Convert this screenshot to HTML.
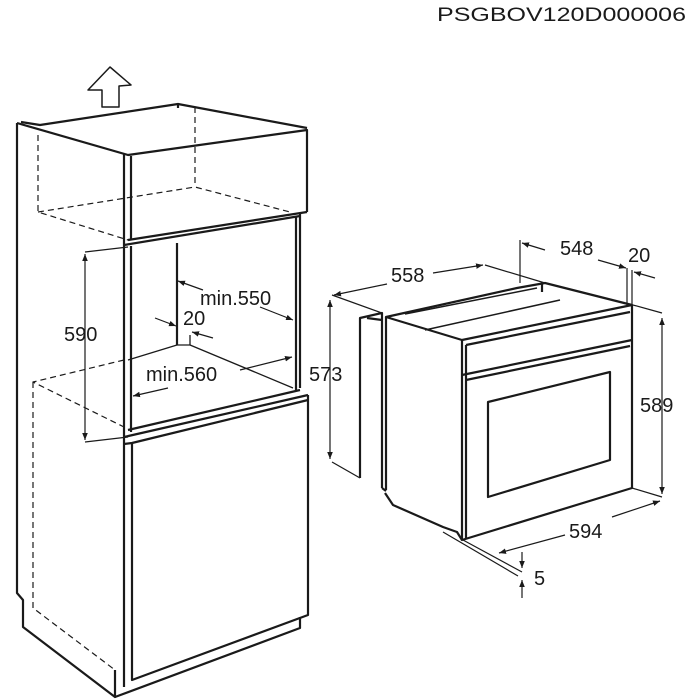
<!DOCTYPE html>
<html><head><style>
body{margin:0;background:#fff;}
svg{display:block;}
text{font-family:"Liberation Sans",Arial,sans-serif;fill:#1a1a1a;}
</style></head><body>
<svg width="700" height="700" viewBox="0 0 700 700" xmlns="http://www.w3.org/2000/svg">
<defs>
<marker id="a" viewBox="0 0 10 10" refX="10" refY="5" markerWidth="7" markerHeight="7" orient="auto-start-reverse" markerUnits="userSpaceOnUse"><path d="M0,1 L10,5 L0,9 z" fill="#1a1a1a"/></marker>
</defs>
<text x="437" y="21" font-size="19" textLength="249" lengthAdjust="spacingAndGlyphs">PSGBOV120D000006</text>

<g fill="none" stroke="#1a1a1a" stroke-width="2.2" stroke-linejoin="round">
<!-- up arrow -->
<polygon points="88,90 110,67 131,85 119,86 119,107 102,107 102,90" stroke-width="1.5"/>
<!-- cabinet outer left -->
<polyline points="17,123 17,593 23,600 23,627 115,697 115,670"/>
<polyline points="115,697 300,628 300,617"/>
<!-- top -->
<polyline points="17,123 128,155 307,130 307,212"/>
<polyline points="21,122 40,125 178,104 307,128"/>
<line x1="178" y1="104" x2="178" y2="108"/>
<line x1="124" y1="154" x2="124" y2="687"/>
<line x1="131" y1="156" x2="131" y2="240"/>
<polyline points="128,240 307,212"/>
<polyline points="124,245 300,216"/>
<!-- opening -->
<line x1="131" y1="246" x2="131" y2="432"/>
<line x1="296" y1="216" x2="296" y2="390"/>
<line x1="300" y1="214" x2="300" y2="388"/>
<line x1="177" y1="243" x2="177" y2="345"/>
<polyline points="177,345 190,345 293,388" stroke-width="1.3"/>
<line x1="190" y1="335" x2="190" y2="345" stroke-width="1.3"/>
<line x1="177" y1="345" x2="128" y2="360" stroke-width="1.3"/>
<polyline points="128,430 300,390"/>
<polyline points="124,437 308,395"/>
<polyline points="124,444 132,443 308,400"/>
<!-- lower door -->
<polyline points="132,443 132,680 308,615 308,395"/>
<!-- dashed -->
<g stroke-dasharray="6,4" stroke-width="1.2">
<polyline points="38,135 38,212 128,240"/>
<polyline points="38,212 195,187 290,212"/>
<line x1="195" y1="107" x2="195" y2="187"/>
<polyline points="124,360 33,382 124,427"/>
<polyline points="33,382 33,608 115,670"/>
</g>
<!-- 590 -->
<g stroke-width="1.2">
<line x1="85" y1="254" x2="85" y2="440" marker-start="url(#a)" marker-end="url(#a)"/>
<line x1="85" y1="252" x2="128" y2="247"/>
<line x1="85" y1="442" x2="128" y2="437"/>
<line x1="203" y1="290" x2="178" y2="281" marker-end="url(#a)"/>
<line x1="260" y1="307" x2="293" y2="320" marker-end="url(#a)"/>
<line x1="155" y1="318" x2="176" y2="326" marker-end="url(#a)"/>
<line x1="213" y1="338" x2="192" y2="332" marker-end="url(#a)"/>
<line x1="168" y1="388" x2="133" y2="396" marker-end="url(#a)"/>
<line x1="240" y1="370" x2="292" y2="357" marker-end="url(#a)"/>
</g>

<!-- oven -->
<polyline points="360,478 360,318 382,313 382,488"/>
<line x1="367" y1="318" x2="382" y2="320"/>
<polygon points="386,317 517,288 545,283 632,305 462,340"/>
<line x1="405" y1="314" x2="537" y2="288" stroke-width="1.5"/>
<line x1="425" y1="330" x2="560" y2="300" stroke-width="1.5"/>
<line x1="542" y1="283" x2="542" y2="292"/>
<polyline points="462,340 462,540 632,488 632,305"/>
<polyline points="466,345 630,312"/>
<line x1="466" y1="345" x2="466" y2="538"/>
<polyline points="462,375 632,340"/>
<polyline points="466,380 630,346"/>
<polygon points="488,402 610,372 610,460 488,497"/>
<line x1="386" y1="317" x2="386" y2="490"/>
<polyline points="385,493 393,505 443,527 457,532 462,540" />
<line x1="382" y1="488" x2="386" y2="491"/>
<g stroke-width="1.2">
<line x1="330" y1="300" x2="330" y2="459" marker-start="url(#a)" marker-end="url(#a)"/>
<line x1="332" y1="295" x2="382" y2="313"/>
<line x1="332" y1="462" x2="360" y2="478"/>
<line x1="334" y1="295" x2="387" y2="284" marker-start="url(#a)"/>
<line x1="433" y1="273" x2="483" y2="265" marker-end="url(#a)"/>
<line x1="485" y1="265" x2="545" y2="283"/>
<line x1="520" y1="240" x2="520" y2="283"/>
<line x1="545" y1="250" x2="522" y2="243" marker-end="url(#a)"/>
<line x1="598" y1="260" x2="626" y2="268" marker-end="url(#a)"/>
<line x1="627" y1="268" x2="627" y2="305"/>
<line x1="632" y1="270" x2="632" y2="305"/>
<line x1="655" y1="278" x2="634" y2="272" marker-end="url(#a)"/>
<line x1="662" y1="318" x2="662" y2="494" marker-start="url(#a)" marker-end="url(#a)"/>
<line x1="633" y1="305" x2="662" y2="313"/>
<line x1="632" y1="488" x2="662" y2="497"/>
<line x1="612" y1="517" x2="660" y2="501" marker-end="url(#a)"/>
<line x1="565" y1="535" x2="499" y2="553" marker-end="url(#a)"/>
<line x1="463" y1="540" x2="522" y2="572"/>
<line x1="443" y1="532" x2="518" y2="576"/>
<line x1="522" y1="552" x2="522" y2="568" marker-end="url(#a)"/>
<line x1="522" y1="598" x2="522" y2="580" marker-end="url(#a)"/>
</g>
</g>

<g font-size="20">
<text x="64" y="341">590</text>
<text x="200" y="305">min.550</text>
<text x="183" y="325">20</text>
<text x="146" y="381">min.560</text>
<text x="309" y="381">573</text>
<text x="391" y="282">558</text>
<text x="560" y="255">548</text>
<text x="628" y="262">20</text>
<text x="640" y="412">589</text>
<text x="569" y="538">594</text>
<text x="534" y="585">5</text>
</g>
</svg>
</body></html>
